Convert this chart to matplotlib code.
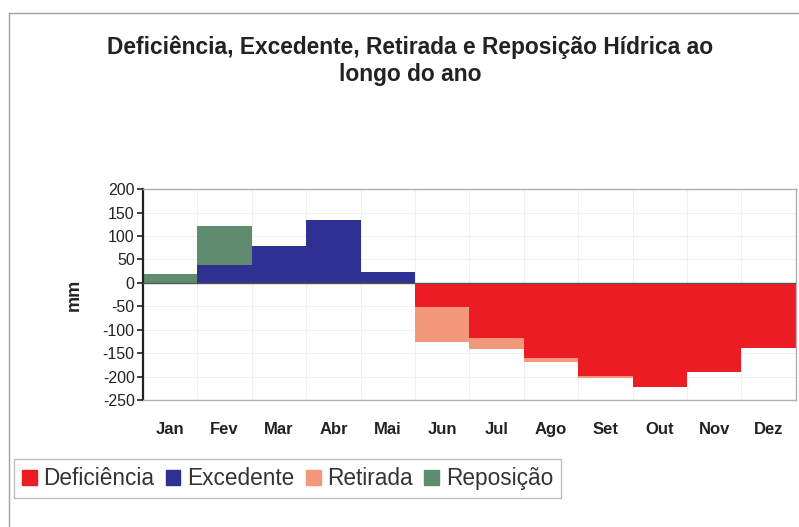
import matplotlib.pyplot as plt
import numpy as np
from matplotlib.patches import Patch
from matplotlib.lines import Line2D

plt.rcParams["font.family"] = ["Liberation Sans", "DejaVu Sans"]

meses = ["Jan", "Fev", "Mar", "Abr", "Mai", "Jun", "Jul", "Ago", "Set", "Out", "Nov", "Dez"]
deficiencia = [0, 0, 0, 0, 0, -51, -118, -161, -198, -223, -191, -139]
retirada = [0, 0, 0, 0, 0, -75, -23, -8, -5, 0, 0, 0]
excedente = [0, 38, 79, 135, 23, 0, 0, 0, 0, 0, 0, 0]
reposicao = [19, 84, 0, 0, 0, 0, 0, 0, 0, 0, 0, 0]
yticks = [-250, -200, -150, -100, -50, 0, 50, 100, 150, 200]

c_def = "#EC1C24"
c_exc = "#2E3092"
c_ret = "#F4987C"
c_rep = "#5F8B6E"
txt = "#222222"

fig = plt.figure(figsize=(7.99, 5.27), dpi=100)
ax = fig.add_axes([0.179, 0.241, 0.817, 0.400])

x = np.arange(len(meses))
ax.bar(x, deficiencia, width=1.0, color=c_def, zorder=2)
ax.bar(x, retirada, width=1.0, bottom=deficiencia, color=c_ret, zorder=2)
ax.bar(x, excedente, width=1.0, color=c_exc, zorder=2)
ax.bar(x, reposicao, width=1.0, bottom=excedente, color=c_rep, zorder=2)

ax.set_xlim(-0.5, 11.5)
ax.set_ylim(-250, 200)
ax.set_yticks(yticks)
ax.set_yticklabels([str(t) for t in yticks])
ax.set_xticks(x)
ax.set_xticklabels(meses, fontweight="bold", fontsize=12, color=txt)
ax.tick_params(axis="x", length=0, pad=16)
ax.tick_params(axis="y", labelsize=11.5, colors=txt, direction="out", length=4, width=1.2, pad=2)

# faint grid
for b in np.arange(0.5, 11.5, 1):
    ax.axvline(b, color="#f0f0f0", lw=0.8, zorder=0)
for t in yticks[1:-1]:
    ax.axhline(t, color="#f0f0f0", lw=0.8, zorder=0)
ax.axhline(0, color="#555555", lw=1.0, zorder=3)

ax.spines["left"].set_color(txt)
ax.spines["left"].set_linewidth(1.6)
for s in ["top", "right", "bottom"]:
    ax.spines[s].set_color("#b0b0b0")
    ax.spines[s].set_linewidth(1.0)

ax.set_ylabel("mm", fontweight="bold", fontsize=13, color=txt, labelpad=14)

fig.text(0.513, 1 - 47 / 527, "Deficiência, Excedente, Retirada e Reposição Hídrica ao",
         ha="center", va="center", fontsize=16.4, fontweight="bold", color=txt)
fig.text(0.513, 1 - 75 / 527, "longo do ano",
         ha="center", va="center", fontsize=16.4, fontweight="bold", color=txt)

# outer chart border
fig.add_artist(Line2D([9 / 799, 9 / 799], [0, 1 - 13 / 527], transform=fig.transFigure,
                      color="#a0a0a0", lw=1.0))
fig.add_artist(Line2D([9 / 799, 1], [1 - 13 / 527, 1 - 13 / 527], transform=fig.transFigure,
                      color="#a0a0a0", lw=1.0))

handles = [Patch(color=c_def, label="Deficiência"),
           Patch(color=c_exc, label="Excedente"),
           Patch(color=c_ret, label="Retirada"),
           Patch(color=c_rep, label="Reposição")]
leg = fig.legend(handles=handles, loc="lower left", bbox_to_anchor=(14 / 799, 1 - 498 / 527),
                 borderaxespad=0, ncol=4, fontsize=16.3, frameon=True, fancybox=False,
                 handlelength=0.65, handleheight=0.65, handletextpad=0.3,
                 columnspacing=0.5, borderpad=0.35, labelcolor="#333333")
leg.get_frame().set_edgecolor("#b0b0b0")
leg.get_frame().set_linewidth(1.0)

fig.savefig("out.png", dpi=100)
